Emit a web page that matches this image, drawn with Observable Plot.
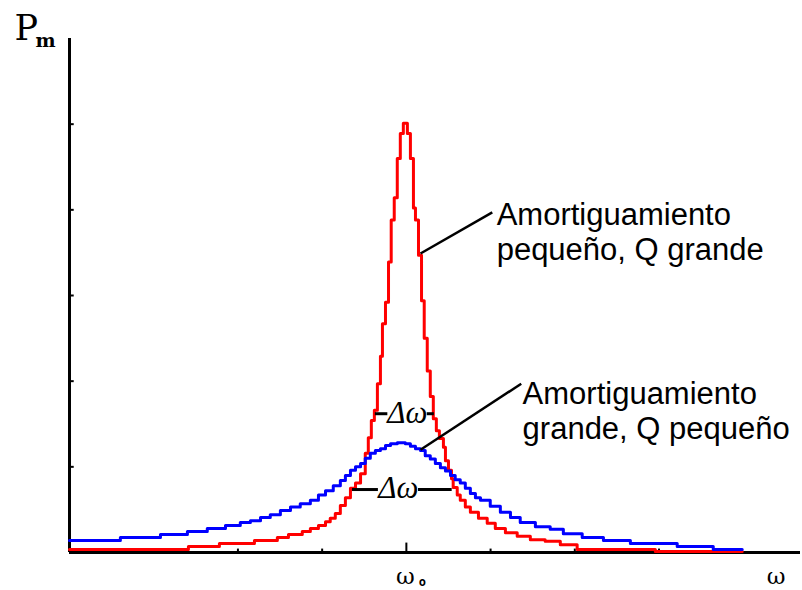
<!DOCTYPE html>
<html>
<head>
<meta charset="utf-8">
<script src="https://cdn.jsdelivr.net/npm/d3@7"></script>
<script src="https://cdn.jsdelivr.net/npm/@observablehq/plot@0.6"></script>
<style>
  html, body { margin: 0; padding: 0; background: #fff; }
</style>
</head>
<body>
<div id="chart"></div>
<script>
// ω / ω0 and power (arbitrary units)
const wRed = [0, 0.353, 0.445, 0.549, 0.617, 0.650, 0.691, 0.715, 0.739, 0.760, 0.774, 0.789, 0.804, 0.819, 0.834, 0.849, 0.864, 0.878, 0.887, 0.896, 0.905, 0.914, 0.923, 0.929, 0.938, 0.947, 0.955, 0.964, 0.973, 0.982, 0.991, 1.003, 1.012, 1.021, 1.027, 1.036, 1.045, 1.053, 1.062, 1.071, 1.080, 1.089, 1.098, 1.110, 1.116, 1.125, 1.134, 1.139, 1.151, 1.160, 1.175, 1.190, 1.214, 1.240, 1.264, 1.294, 1.329, 1.368, 1.412, 1.457, 1.507, 1.739, 1.997];
const pRed = [0.035, 0.07, 0.105, 0.14, 0.175, 0.21, 0.245, 0.28, 0.315, 0.36, 0.40, 0.455, 0.55, 0.64, 0.75, 0.81, 0.92, 1.16, 1.34, 1.54, 1.66, 1.97, 2.29, 2.67, 2.92, 3.39, 3.88, 4.14, 4.60, 4.89, 5.01, 4.89, 4.60, 4.02, 3.88, 3.47, 2.94, 2.50, 2.12, 1.82, 1.56, 1.42, 1.33, 1.23, 1.07, 0.96, 0.86, 0.76, 0.67, 0.61, 0.53, 0.47, 0.40, 0.34, 0.28, 0.23, 0.19, 0.15, 0.13, 0.09, 0.035, 0.012, 0.012];

const wBlue = [0, 0.151, 0.270, 0.350, 0.409, 0.463, 0.507, 0.537, 0.567, 0.596, 0.626, 0.656, 0.685, 0.715, 0.739, 0.760, 0.783, 0.804, 0.819, 0.834, 0.849, 0.864, 0.878, 0.893, 0.908, 0.923, 0.938, 0.953, 0.973, 0.997, 1.012, 1.027, 1.042, 1.056, 1.071, 1.086, 1.101, 1.116, 1.131, 1.145, 1.160, 1.175, 1.190, 1.205, 1.220, 1.249, 1.279, 1.309, 1.338, 1.383, 1.427, 1.466, 1.522, 1.585, 1.665, 1.804, 1.911, 1.997];
const pBlue = [0.14, 0.175, 0.21, 0.245, 0.28, 0.315, 0.35, 0.37, 0.41, 0.44, 0.49, 0.53, 0.57, 0.61, 0.67, 0.72, 0.78, 0.84, 0.90, 0.96, 1.00, 1.04, 1.10, 1.16, 1.19, 1.21, 1.25, 1.27, 1.28, 1.27, 1.24, 1.21, 1.19, 1.13, 1.09, 1.04, 0.99, 0.95, 0.90, 0.85, 0.81, 0.75, 0.69, 0.64, 0.61, 0.54, 0.47, 0.41, 0.35, 0.30, 0.27, 0.22, 0.175, 0.14, 0.105, 0.07, 0.035, 0.035];

const xTicks = [0.25, 0.5, 0.75, 1.25, 1.5, 1.75];
const yTicks = [1, 2, 3, 4, 5];
const w0 = 1;

const labelText = ["Amortiguamiento\npequeño, Q grande", "Amortiguamiento\ngrande, Q pequeño"];
const labelW = [1.268, 1.345];
const labelP = [3.42, 1.33];
// leader lines: [w1, p1, w2, p2]
const leaders = [[1.042, 3.49, 1.255, 3.97], [1.042, 1.20, 1.341, 1.97]];
// Δω markers: level, left segment, right segment, text centre
const dwP = [1.62, 0.735];
const dwLeft = [[0.908, 0.945], [0.840, 0.917]];
const dwRight = [[1.062, 1.083], [1.036, 1.136]];
const dwText = [1.003, 0.976];

const red = wRed.map((w, i) => ({w, p: pRed[i]}));
const blue = wBlue.map((w, i) => ({w, p: pBlue[i]}));
const labels = labelText.map((t, i) => ({w: labelW[i], p: labelP[i], t}));
const links = leaders.map(([w1, p1, w2, p2]) => ({w1, p1, w2, p2}));
const segs = [];
dwP.forEach((p, i) => { segs.push({p, a: dwLeft[i][0], b: dwLeft[i][1]}); segs.push({p, a: dwRight[i][0], b: dwRight[i][1]}); });
const dws = dwP.map((p, i) => ({p, w: dwText[i]}));

const chart = Plot.plot({
  width: 802,
  height: 590,
  marginLeft: 69,
  marginRight: 2,
  marginTop: 38,
  marginBottom: 38,
  x: {domain: [0, 2.17], axis: null},
  y: {domain: [0, 6], axis: null},
  style: {background: "#fff", overflow: "visible"},
  marks: [
    Plot.ruleY([0], {x1: 0, x2: 2.17, stroke: "black", strokeWidth: 3}),
    Plot.ruleX([0], {y1: 0, y2: 6, stroke: "black", strokeWidth: 3}),
    Plot.ruleX(xTicks, {x: d => d, y1: 0, y2: 0.04, stroke: "black", strokeWidth: 2}),
    Plot.ruleX([w0], {x: d => d, y1: 0, y2: 0.11, stroke: "black", strokeWidth: 2}),
    Plot.ruleY(yTicks, {y: d => d, x1: 0, x2: 0.014, stroke: "black", strokeWidth: 2}),
    Plot.line(red, {x: "w", y: "p", curve: "step-after", stroke: "#ff0000", strokeWidth: 3}),
    Plot.line(blue, {x: "w", y: "p", curve: "step-after", stroke: "#0000ff", strokeWidth: 3}),
    Plot.link(links, {x1: "w1", y1: "p1", x2: "w2", y2: "p2", stroke: "black", strokeWidth: 2.5}),
    Plot.ruleY(segs, {y: "p", x1: "a", x2: "b", stroke: "black", strokeWidth: 3}),
    Plot.text(dws, {x: "w", y: "p", text: () => "Δω", fontFamily: "Liberation Serif", fontStyle: "italic", fontSize: 31, fill: "black", dy: -1}),
    Plot.text(labels, {x: "w", y: "p", text: "t", textAnchor: "start", lineAnchor: "bottom", lineHeight: 1.1, fontFamily: "Liberation Sans", fontSize: 31, fill: "black"}),
    Plot.text([w0], {x: d => d, y: 0, text: () => "ω", lineAnchor: "bottom", dy: 31, dx: -1, fontFamily: "DejaVu Serif", fontSize: 23, fill: "black"}),
    Plot.text([w0], {x: d => d, y: 0, text: () => "o", lineAnchor: "bottom", dy: 33, dx: 16, fontFamily: "DejaVu Sans Mono", fontWeight: "bold", fontSize: 12, fill: "black"}),
    Plot.text([2.098], {x: d => d, y: 0, text: () => "ω", lineAnchor: "bottom", dy: 31, fontFamily: "DejaVu Serif", fontSize: 23, fill: "black"}),
    Plot.text(["P"], {frameAnchor: "top-left", text: d => d, textAnchor: "start", lineAnchor: "bottom", dx: -55, dy: 1, fontFamily: "'DejaVu Serif', serif", fontSize: 35, fill: "black"}),
    Plot.text(["m"], {frameAnchor: "top-left", text: d => d, textAnchor: "start", lineAnchor: "bottom", dx: -34, dy: 8, fontFamily: "'DejaVu Serif', serif", fontWeight: "bold", fontSize: 19, fill: "black"})
  ]
});
document.getElementById("chart").appendChild(chart);
</script>
</body>
</html>
